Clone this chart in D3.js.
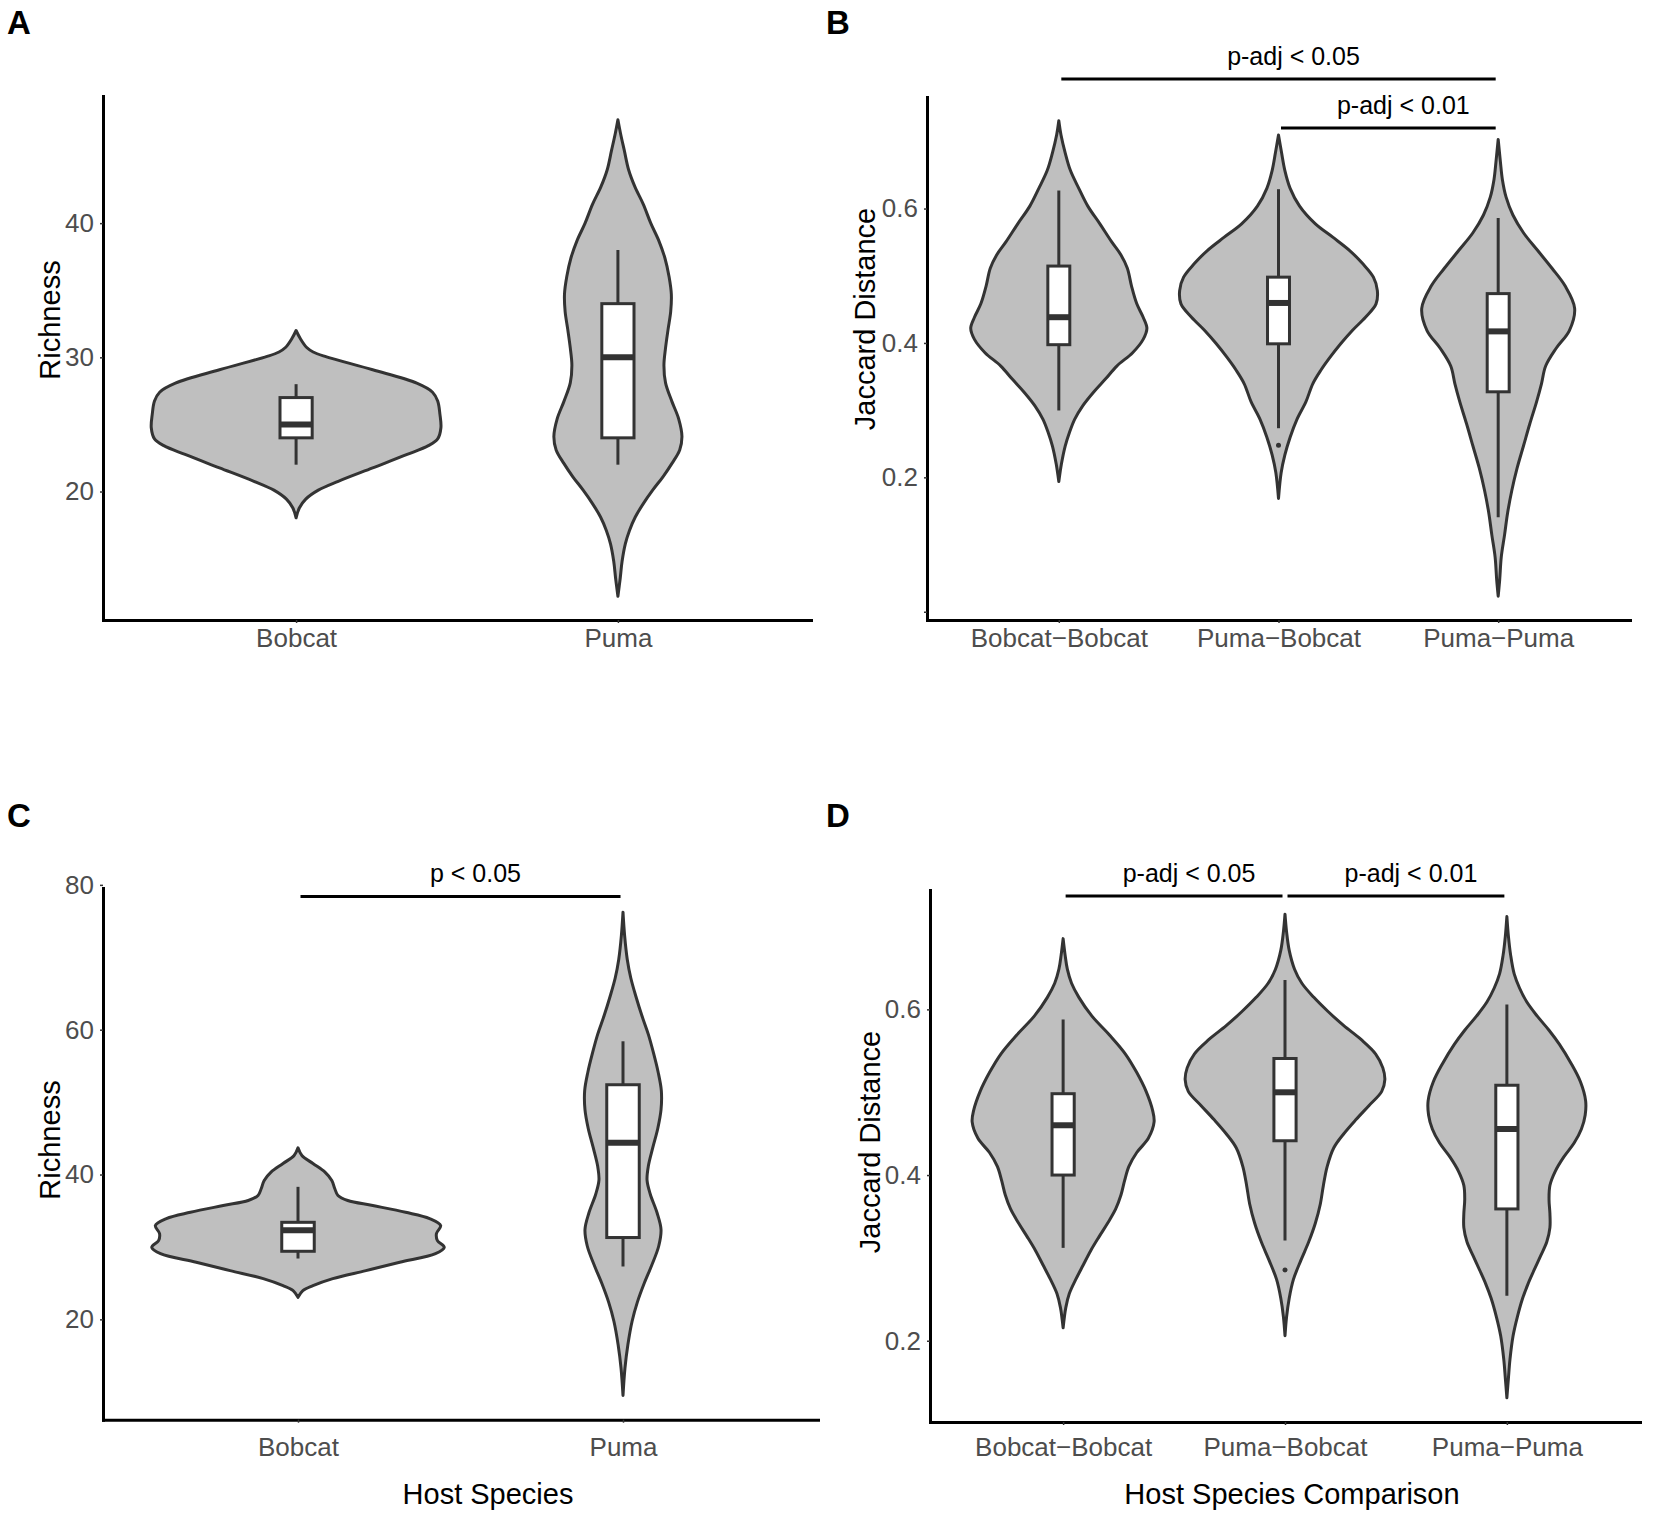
<!DOCTYPE html>
<html>
<head>
<meta charset="utf-8">
<script src="https://cdn.jsdelivr.net/npm/d3@7/dist/d3.min.js"></script>
<style>
    body { margin: 0; background: #fff; }
    text { font-family: 'Liberation Sans', Arial, Helvetica, sans-serif; }
</style>
</head>
<body>
<script>
// ---- data ----
// violin outlines: value along y, half width in category steps
// boxes: [lower whisker, q1, median, q3, upper whisker]

var hostSpecies = ['Bobcat', 'Puma']
var hostComparisons = ['Bobcat\u2212Bobcat', 'Puma\u2212Bobcat', 'Puma\u2212Puma']

// A: richness
var aBobcatValues = [32.0, 31.4, 30.73, 30.4, 30.07, 29.07, 28.07, 27.4, 26.74, 25.75, 24.75, 23.92, 23.42, 22.76, 21.76, 20.76, 20.1, 19.43, 18.77, 18.04]
var aBobcatWidths = [0, .013, .033, .053, .090, .238, .375, .424, .440, .447, .450, .440, .411, .345, .238, .131, .069, .030, .010, 0]
var aPumaValues = [47.7, 46.7, 45.4, 44.0, 42.7, 41.4, 40.0, 38.7, 37.4, 36.0, 34.7, 33.4, 32.1, 30.7, 29.4, 28.1, 26.7, 25.4, 24.1, 23.1, 22.1, 21.1, 20.1, 19.1, 18.1, 17.1, 16.1, 14.8, 13.5, 12.2]
var aPumaWidths = [0, .008, .020, .033, .053, .079, .102, .127, .146, .159, .166, .164, .156, .148, .143, .148, .168, .189, .199, .192, .168, .140, .108, .079, .054, .036, .023, .013, .007, 0]
var aBoxes = [[22, 24, 25, 27, 28], [22, 24, 30, 34, 38]]

// B: jaccard distance
var bBobBobValues = [.7306, .7094, .6830, .6565, .6301, .6036, .5772, .5507, .5309, .5111, .4846, .4582, .4383, .4218, .4053, .3855, .3656, .3458, .3260, .3061, .2863, .2664, .2466, .2202, .1937]
var bBobBobWidths = [0, .010, .029, .053, .091, .132, .187, .240, .283, .312, .331, .355, .384, .401, .384, .336, .264, .211, .156, .108, .072, .048, .029, .012, 0]
var bPumBobValues = [.7094, .6830, .6565, .6301, .6036, .5772, .5574, .5375, .5177, .4979, .4780, .4582, .4383, .4185, .3987, .3788, .3590, .3392, .3127, .2863, .2598, .2334, .2069, .1686]
var bPumBobWidths = [0, .014, .029, .053, .096, .168, .247, .324, .384, .432, .450, .444, .396, .336, .283, .235, .192, .156, .125, .084, .053, .029, .012, 0]
var bPumPumValues = [.7028, .6698, .6433, .6169, .5904, .5640, .5375, .5111, .4846, .4516, .4185, .3921, .3656, .3392, .3127, .2797, .2466, .2136, .1805, .1474, .1144, .0813, .0483, .0231]
var bPumPumWidths = [0, .010, .019, .036, .067, .115, .180, .245, .305, .348, .324, .264, .216, .197, .175, .144, .115, .086, .062, .043, .029, .014, .007, 0]
var bBoxes = [[.2995, .3974, .4383, .5144, .6268], [.2731, .3987, .4595, .4979, .6288], [.1408, .3273, .4172, .4734, .5858]]
var bOutliers = [[], [.2479], []]

// C: richness
var cBobcatValues = [43.69, 42.63, 41.52, 40.32, 39.17, 38.07, 37.10, 36.41, 35.72, 34.79, 33.92, 32.95, 31.85, 30.88, 29.95, 29.08, 27.88, 26.73, 25.63, 24.66, 23.97, 23.04]
var cBobcatWidths = [0, .012, .046, .083, .104, .113, .123, .153, .230, .331, .405, .439, .426, .429, .450, .423, .313, .209, .107, .046, .015, 0]
var cPumaValues = [76.23, 72.99, 69.74, 67.14, 64.55, 61.95, 59.35, 56.75, 54.16, 51.56, 48.96, 46.36, 43.77, 41.17, 39.22, 37.27, 34.68, 32.40, 30.13, 27.53, 24.94, 22.34, 19.74, 16.49, 13.25, 9.48]
var cPumaWidths = [0, .005, .013, .024, .040, .058, .078, .094, .108, .118, .117, .107, .092, .078, .074, .084, .105, .117, .110, .089, .065, .044, .028, .015, .006, 0]
var cBoxes = [[28.4, 29.4, 32.3, 33.4, 38.3], [27.3, 31.3, 44.4, 52.4, 58.4]]

// D: jaccard distance
var dBobBobValues = [.6854, .6655, .6485, .6315, .6145, .5918, .5691, .5464, .5237, .5010, .4783, .4641, .4443, .4272, .4102, .3932, .3762, .3591, .3421, .3251, .3081, .2911, .2740, .2570, .2400, .2156]
var dBobBobWidths = [0, .009, .019, .038, .071, .130, .209, .280, .332, .374, .403, .410, .384, .332, .296, .277, .261, .237, .201, .161, .123, .090, .057, .028, .012, 0]
var dPumBobValues = [.7149, .6939, .6712, .6485, .6315, .6145, .5974, .5804, .5634, .5464, .5294, .5152, .5010, .4840, .4670, .4499, .4329, .4102, .3875, .3648, .3421, .3194, .2967, .2740, .2513, .2286, .2060]
var dPumBobWidths = [0, .007, .019, .043, .076, .130, .194, .265, .344, .408, .441, .450, .436, .379, .320, .265, .220, .190, .173, .159, .137, .107, .071, .038, .019, .007, 0]
var dPumPumValues = [.7121, .6882, .6655, .6428, .6258, .6088, .5918, .5748, .5577, .5350, .5123, .4896, .4726, .4556, .4386, .4216, .4045, .3875, .3705, .3535, .3365, .3194, .3024, .2854, .2684, .2513, .2286, .2060, .1776, .1549, .1311]
var dPumPumWidths = [0, .007, .017, .033, .057, .090, .137, .190, .237, .289, .332, .355, .353, .336, .303, .256, .218, .194, .190, .194, .194, .180, .152, .123, .095, .071, .047, .028, .014, .007, 0]
var dBoxes = [[.3121, .4, .4601, .4982, .5878], [.3211, .4414, .4999, .5407, .6355], [.2542, .3591, .4556, .5084, .606]]
var dOutliers = [[], [.2854], []]

// y ticks
var richnessTicksA = [20, 30, 40]
var jaccardTicksB = [0, 0.2, 0.4, 0.6]
var jaccardTickLabelsB = ['', '0.2', '0.4', '0.6']
var richnessTicksC = [20, 40, 60, 80]
var jaccardTicksD = [0.2, 0.4, 0.6]

// significance brackets
var bSigFrom = [0, 1], bSigTo = [2, 2], bSigY = [.7928, .7198], bSigLabels = ['p-adj < 0.05', 'p-adj < 0.01']
var cSigFrom = [0], cSigTo = [1], cSigY = [78.4], cSigLabels = ['p < 0.05']
var dSigFrom = [0, 1], dSigTo = [1, 2], dSigY = [.7369, .7369], dSigLabels = ['p-adj < 0.05', 'p-adj < 0.01']

function zipProfile(values, widths) {
    return values.map((v, i) => [v, widths[i]])
}

var svg = d3.select('body')
    .append('svg')
    .attr('width', 1654)
    .attr('height', 1517)

svg.append('rect').attr('width', 1654).attr('height', 1517).attr('fill', '#fff')

function renderPanel(p) {
    var g = svg.append('g').attr('class', 'panel')

    var x = d3.scalePoint()
        .domain(p.categories)
        .range([p.left, p.right])
        .padding(0.6)

    var ext = d3.extent(d3.merge(p.violins.map(v => v.map(d => d[0]))))
    var pad = (ext[1] - ext[0]) * 0.05
    var y = d3.scaleLinear()
        .domain([ext[0] - pad, ext[1] + pad])
        .range([p.bottom, p.top])

    var step = x.step()

    // violins
    p.violins.forEach(function (profile, i) {
        var cx = x(p.categories[i])
        var area = d3.area()
            .curve(d3.curveCatmullRom.alpha(0.5))
            .y(d => y(d[0]))
            .x0(d => cx - d[1] * step)
            .x1(d => cx + d[1] * step)

        g.append('path')
            .datum(profile)
            .attr('class', 'violin')
            .attr('d', area)
            .attr('fill', '#bfbfbf')
            .attr('stroke', '#333')
            .attr('stroke-width', 3)
            .attr('stroke-linejoin', 'round')
    })

    // boxplots
    var boxes = g.selectAll('g.box')
        .data(p.boxes)
        .enter()
        .append('g')
        .attr('class', 'box')
        .attr('stroke', '#333')

    var bw = step * 0.1
    boxes.append('line')
        .attr('x1', (d, i) => x(p.categories[i]))
        .attr('x2', (d, i) => x(p.categories[i]))
        .attr('y1', d => y(d[0]))
        .attr('y2', d => y(d[4]))
        .attr('stroke-width', 3)

    boxes.append('rect')
        .attr('x', (d, i) => x(p.categories[i]) - bw / 2)
        .attr('width', bw)
        .attr('y', d => y(d[3]))
        .attr('height', d => y(d[1]) - y(d[3]))
        .attr('fill', '#fff')
        .attr('stroke-width', 3)

    boxes.append('line')
        .attr('x1', (d, i) => x(p.categories[i]) - bw / 2)
        .attr('x2', (d, i) => x(p.categories[i]) + bw / 2)
        .attr('y1', d => y(d[2]))
        .attr('y2', d => y(d[2]))
        .attr('stroke-width', 6)

    if (p.outliers) {
        p.outliers.forEach(function (pts, i) {
            g.selectAll(null)
                .data(pts)
                .enter()
                .append('circle')
                .attr('cx', x(p.categories[i]))
                .attr('cy', d => y(d))
                .attr('r', 2.5)
                .attr('fill', '#333')
        })
    }

    // significance brackets
    if (p.sig) {
        var s = p.sig
        s.labels.forEach(function (label, i) {
            var x1 = x(p.categories[s.from[i]]) + 2.5
            var x2 = x(p.categories[s.to[i]]) - 2.5
            var yy = y(s.y[i])
            g.append('line')
                .attr('x1', x1).attr('x2', x2)
                .attr('y1', yy).attr('y2', yy)
                .attr('stroke', '#000')
                .attr('stroke-width', 3)
            g.append('text')
                .attr('x', (x1 + x2) / 2 + 15)
                .attr('y', yy - 14)
                .attr('text-anchor', 'middle')
                .attr('font-size', 25)
                .attr('fill', '#000')
                .text(label)
        })
    }

    // axes
    var yAxis = d3.axisLeft(y)
        .tickValues(p.ticks)
        .tickFormat((d, i) => p.tickLabels ? p.tickLabels[i] : p.format(d))
        .tickSize(3)
        .tickSizeOuter(0)
        .tickPadding(6)

    var xAxis = d3.axisBottom(x)
        .tickSize(3)
        .tickSizeOuter(0)
        .tickPadding(p.xPad)

    var yg = g.append('g')
        .attr('transform', 'translate(' + p.left + ',0)')
        .call(yAxis)
    var xg = g.append('g')
        .attr('transform', 'translate(0,' + p.bottom + ')')
        .call(xAxis)

    ;[yg, xg].forEach(function (ax) {
        ax.attr('font-size', 26)
            .attr('font-family', "'Liberation Sans', Arial, sans-serif")
        ax.select('.domain')
            .attr('stroke', '#000')
            .attr('stroke-width', 3)
            .attr('stroke-linecap', 'square')
        ax.selectAll('.tick line')
            .attr('stroke', '#333')
            .attr('stroke-width', 1.5)
        ax.selectAll('.tick text')
            .attr('fill', '#4d4d4d')
    })

    // titles
    g.append('text')
        .attr('transform', 'translate(' + p.yTitle[0] + ',' + p.yTitle[1] + ') rotate(-90)')
        .attr('text-anchor', 'middle')
        .attr('font-size', 29)
        .attr('fill', '#000')
        .text(p.yLabel)

    if (p.xLabel) {
        g.append('text')
            .attr('x', p.xTitle[0])
            .attr('y', p.xTitle[1])
            .attr('text-anchor', 'middle')
            .attr('font-size', 29)
            .attr('fill', '#000')
            .text(p.xLabel)
    }

    g.append('text')
        .attr('x', p.tag[0])
        .attr('y', p.tag[1])
        .attr('font-size', 33)
        .attr('font-weight', 'bold')
        .attr('fill', '#000')
        .text(p.tagText)
}

var fmtInt = d3.format('d')
var fmtOne = d3.format('.1f')

renderPanel({
    categories: hostSpecies,
    violins: [zipProfile(aBobcatValues, aBobcatWidths), zipProfile(aPumaValues, aPumaWidths)],
    boxes: aBoxes,
    ticks: richnessTicksA, format: fmtInt,
    left: 103, right: 811, top: 96, bottom: 620, xPad: 6,
    yLabel: 'Richness', yTitle: [60, 320],
    tag: [7, 34], tagText: 'A'
})

renderPanel({
    categories: hostComparisons,
    violins: [zipProfile(bBobBobValues, bBobBobWidths), zipProfile(bPumBobValues, bPumBobWidths), zipProfile(bPumPumValues, bPumPumWidths)],
    boxes: bBoxes, outliers: bOutliers,
    ticks: jaccardTicksB, tickLabels: jaccardTickLabelsB, format: fmtOne,
    sig: { from: bSigFrom, to: bSigTo, y: bSigY, labels: bSigLabels },
    left: 927, right: 1630, top: 97, bottom: 620, xPad: 6,
    yLabel: 'Jaccard Distance', yTitle: [875, 319],
    tag: [826, 34], tagText: 'B'
})

renderPanel({
    categories: hostSpecies,
    violins: [zipProfile(cBobcatValues, cBobcatWidths), zipProfile(cPumaValues, cPumaWidths)],
    boxes: cBoxes,
    ticks: richnessTicksC, format: fmtInt,
    sig: { from: cSigFrom, to: cSigTo, y: cSigY, labels: cSigLabels },
    left: 103, right: 818, top: 888, bottom: 1419.7, xPad: 15,
    yLabel: 'Richness', yTitle: [60, 1140],
    xLabel: 'Host Species', xTitle: [488, 1504],
    tag: [7, 827], tagText: 'C'
})

renderPanel({
    categories: hostComparisons,
    violins: [zipProfile(dBobBobValues, dBobBobWidths), zipProfile(dPumBobValues, dPumBobWidths), zipProfile(dPumPumValues, dPumPumWidths)],
    boxes: dBoxes, outliers: dOutliers,
    ticks: jaccardTicksD, format: fmtOne,
    sig: { from: dSigFrom, to: dSigTo, y: dSigY, labels: dSigLabels },
    left: 930, right: 1640, top: 890, bottom: 1422, xPad: 13,
    yLabel: 'Jaccard Distance', yTitle: [880, 1142],
    xLabel: 'Host Species Comparison', xTitle: [1292, 1504],
    tag: [826, 827], tagText: 'D'
})
</script>
</body>
</html>
